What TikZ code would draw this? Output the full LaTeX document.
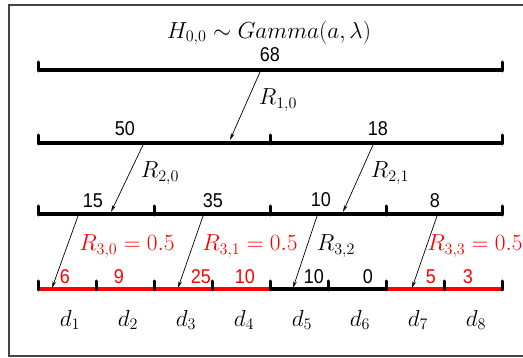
\documentclass[tikz,border=0pt]{standalone}
\usepackage{fontspec}
\newfontfamily\numfont[FakeStretch=0.9]{Liberation Sans}
\usepackage{amsmath}
\usetikzlibrary{arrows.meta}
\definecolor{splitred}{HTML}{FF0000}
\definecolor{framegray}{HTML}{444444}
\newcommand{\mth}[1]{\scalebox{1.12}{$#1$}}

\begin{document}
\begin{tikzpicture}[x=1pt,y=-1pt,
  bar/.style={line width=4pt},
  tickmark/.style={line width=3pt,line cap=round},
  split/.style={-{Stealth[length=7pt,width=3.5pt]},line width=0.7pt},
  num/.style={font=\fontsize{20}{22}\numfont,inner sep=0pt},
  mlab/.style={font=\fontsize{20.74}{24}\selectfont,inner sep=0pt},
  rlab/.style={mlab,text=splitred}
]
\useasboundingbox (0,0) rectangle (523,358);
\draw[framegray,line width=1.3pt] (530,5) -| (9,356) -- (530,356);

% bars of the four levels
\draw[bar] (38,70) -- (502,70);
\draw[bar] (38,143) -- (502,143);
\draw[bar] (38,214) -- (502,214);
\draw[bar,splitred] (38,289) -- (270,289);
\draw[bar] (270,289) -- (386,289);
\draw[bar,splitred] (386,289) -- (502,289);
\foreach \x in {38,502} \draw[tickmark] (\x,62) -- (\x,71);
\foreach \x in {38,270,502} \draw[tickmark] (\x,135) -- (\x,144);
\foreach \x in {38,154,270,386,502} \draw[tickmark] (\x,206) -- (\x,215);
\foreach \x in {38,96,154,212,270,328,386,444,502} \draw[tickmark] (\x,281) -- (\x,290);

% counts
\node[mlab] (title) at (269,33) {\mth{H_{0,0}\sim Gamma(a,\lambda)}};
\node[num] (n68) at (270,55) {68};
\node[num] (n50) at (125,129) {50};
\node[num] (n18) at (378,129) {18};
\node[num] (n15) at (93,201) {15};
\node[num] (n35) at (213,201) {35};
\node[num] (n10a) at (321,200) {10};
\node[num] (n8) at (435,201) {8};
\node[num,splitred] (n6) at (65,277) {6};
\node[num,splitred] (n9) at (119,277) {9};
\node[num,splitred] (n25) at (201,277) {25};
\node[num,splitred] (n10b) at (245,277) {10};
\node[num] (n10c) at (314,277) {10};
\node[num] (n0) at (368,277) {0};
\node[num,splitred] (n5) at (431,277) {5};
\node[num,splitred] (n3) at (468,277) {3};
\foreach \i in {1,...,8}
  \node[mlab] (d\i) at ({70+58*(\i-1)},320) {\mth{d_{\i}}};

% split points
\coordinate (s10) at (260,72);  \coordinate (t10) at (230,140);
\coordinate (s20) at (143,145); \coordinate (t20) at (111,212);
\coordinate (s21) at (373,145); \coordinate (t21) at (343,212);
\coordinate (s30) at (78,216);  \coordinate (t30) at (52,288);
\coordinate (s31) at (203,216); \coordinate (t31) at (178,288);
\coordinate (s32) at (317,216); \coordinate (t32) at (293,288);
\coordinate (s33) at (437,216); \coordinate (t33) at (412,288);
\foreach \k in {10,20,21,30,31,32,33} \draw[split] (s\k) -- (t\k);

\node[mlab] (r10) at (278,100) {\mth{R_{1,0}}};
\node[mlab] (r20) at (160,173) {\mth{R_{2,0}}};
\node[mlab] (r21) at (390,173) {\mth{R_{2,1}}};
\node[rlab] (r30) at (127,246) {\mth{R_{3,0}=0.5}};
\node[rlab] (r31) at (250,246) {\mth{R_{3,1}=0.5}};
\node[mlab] (r32) at (336,246) {\mth{R_{3,2}}};
\node[rlab] (r33) at (475,246) {\mth{R_{3,3}=0.5}};
\end{tikzpicture}
\end{document}
